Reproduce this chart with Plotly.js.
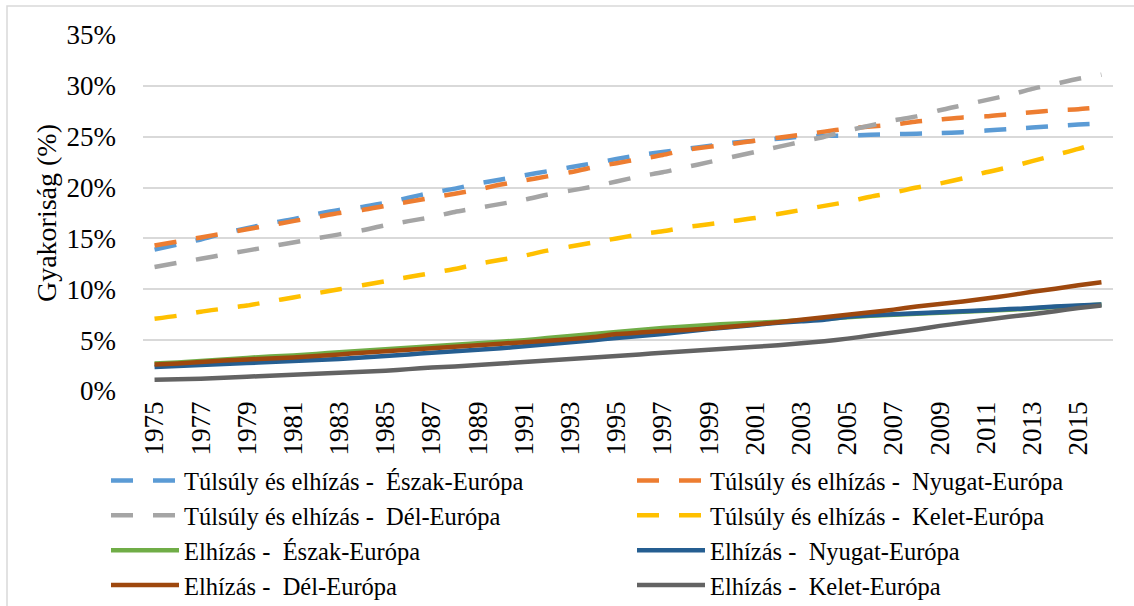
<!DOCTYPE html>
<html>
<head>
<meta charset="utf-8">
<script src="https://cdn.plot.ly/plotly-3.0.1.min.js"></script>
<style>
html,body{margin:0;padding:0;background:#fff;}
#chart{width:1134px;height:606px;}
</style>
</head>
<body>
<div id="chart"></div>
<script>
const years = [1975,1976,1977,1978,1979,1980,1981,1982,1983,1984,1985,1986,1987,1988,1989,1990,1991,1992,1993,1994,1995,1996,1997,1998,1999,2000,2001,2002,2003,2004,2005,2006,2007,2008,2009,2010,2011,2012,2013,2014,2015,2016];
const tickYears = [1975,1977,1979,1981,1983,1985,1987,1989,1991,1993,1995,1997,1999,2001,2003,2005,2007,2009,2011,2013,2015];
const tickLabels = tickYears.map(String);

const seriesNames = [
  "Túlsúly és elhízás -\u00a0 Észak-Európa",
  "Túlsúly és elhízás -\u00a0 Nyugat-Európa",
  "Túlsúly és elhízás -\u00a0 Dél-Európa",
  "Túlsúly és elhízás -\u00a0 Kelet-Európa",
  "Elhízás -\u00a0 Észak-Európa",
  "Elhízás -\u00a0 Nyugat-Európa",
  "Elhízás -\u00a0 Dél-Európa",
  "Elhízás -\u00a0 Kelet-Európa"
];

const overweightNorth = [13.9,14.4,14.9,15.5,16.0,16.5,16.9,17.4,17.8,18.1,18.5,19.0,19.5,19.9,20.4,20.8,21.2,21.6,22.0,22.4,22.8,23.2,23.5,23.8,24.1,24.4,24.6,24.8,25.0,25.1,25.1,25.2,25.25,25.3,25.35,25.45,25.6,25.75,25.9,26.05,26.2,26.3];
const overweightWest = [14.3,14.7,15.1,15.5,15.9,16.3,16.7,17.1,17.5,17.8,18.2,18.6,19.0,19.4,19.8,20.3,20.7,21.1,21.5,22.0,22.4,22.8,23.2,23.7,24.0,24.3,24.6,24.9,25.2,25.5,25.8,26.0,26.2,26.5,26.7,26.9,27.0,27.2,27.4,27.6,27.7,27.9];
const overweightSouth = [12.2,12.6,13.0,13.4,13.8,14.2,14.6,15.0,15.4,15.8,16.3,16.7,17.1,17.6,18.0,18.4,18.8,19.3,19.7,20.1,20.6,21.1,21.5,22.0,22.5,23.0,23.5,24.0,24.5,25.0,25.6,26.1,26.6,27.0,27.6,28.1,28.6,29.1,29.7,30.2,30.7,31.1];
const overweightEast = [7.1,7.4,7.8,8.1,8.4,8.8,9.2,9.6,10.0,10.4,10.8,11.2,11.6,12.0,12.5,12.9,13.3,13.8,14.2,14.6,15.0,15.4,15.7,16.1,16.4,16.7,17.0,17.4,17.8,18.2,18.6,19.1,19.5,20.0,20.4,20.9,21.5,22.0,22.6,23.2,23.8,24.5];
const obesityNorth = [2.7,2.8,2.95,3.1,3.25,3.4,3.5,3.65,3.8,3.95,4.1,4.25,4.4,4.55,4.7,4.85,5.0,5.2,5.4,5.6,5.8,6.0,6.2,6.35,6.5,6.6,6.7,6.8,6.95,7.1,7.25,7.4,7.5,7.6,7.7,7.8,7.9,8.0,8.1,8.25,8.35,8.5];
const obesityWest = [2.35,2.45,2.55,2.65,2.75,2.85,2.95,3.05,3.15,3.3,3.45,3.6,3.75,3.9,4.05,4.2,4.4,4.6,4.8,5.0,5.2,5.4,5.6,5.85,6.1,6.3,6.5,6.7,6.85,7.0,7.3,7.45,7.55,7.65,7.75,7.85,7.95,8.05,8.15,8.3,8.4,8.5];
const obesitySouth = [2.6,2.7,2.85,3.0,3.1,3.2,3.3,3.45,3.6,3.75,3.9,4.05,4.2,4.35,4.5,4.65,4.8,4.95,5.1,5.3,5.6,5.75,5.9,6.0,6.15,6.35,6.55,6.75,7.0,7.25,7.5,7.75,8.0,8.3,8.55,8.8,9.1,9.4,9.75,10.05,10.4,10.7];
const obesityEast = [1.1,1.15,1.2,1.3,1.4,1.5,1.6,1.7,1.8,1.9,2.0,2.15,2.3,2.4,2.55,2.7,2.85,3.0,3.15,3.3,3.45,3.6,3.75,3.9,4.05,4.2,4.35,4.5,4.7,4.9,5.15,5.45,5.75,6.05,6.4,6.7,7.0,7.3,7.55,7.85,8.15,8.4];

const yTickVals = [0,5,10,15,20,25,30,35];
const yTickText = ["0%","5%","10%","15%","20%","25%","30%","35%"];

const seriesValues = [overweightNorth, overweightWest, overweightSouth, overweightEast, obesityNorth, obesityWest, obesitySouth, obesityEast];
const colors = ["#5b9bd5","#ed7d31","#a5a5a5","#ffc000","#70ad47","#255e91","#9e480e","#636363"];
const dashes = ["22px,20px","22px,20px","22px,20px","22px,20px","solid","solid","solid","solid"];
const legendIds = ["legend","legend2","legend","legend2","legend","legend2","legend","legend2"];

const FONT = "Liberation Serif";

const traces = seriesValues.map((vals, i) => ({
  type: 'scatter',
  mode: 'lines',
  x: years,
  y: vals,
  name: seriesNames[i],
  legend: legendIds[i],
  line: {color: colors[i], width: 4.5, dash: dashes[i], shape: 'spline', smoothing: 0.6},
  hoverinfo: 'x+y+name'
}));

const L = 143, R = 1113, T = 35, B = 391;
const pw = R - L, ph = B - T;
const px = v => (v - L) / pw;
const py = v => (B - v) / ph;

const legendBase = {
  orientation: 'v',
  xanchor: 'left',
  y: py(458),
  yanchor: 'top',
  font: {family: FONT, size: 24.5, color: '#000'},
  itemwidth: 68,
  bgcolor: 'rgba(0,0,0,0)',
  traceorder: 'normal'
};

const layout = {
  width: 1134, height: 606,
  margin: {l: L, r: 1134 - R, t: T, b: 606 - B, pad: 0, autoexpand: false},
  paper_bgcolor: '#ffffff',
  plot_bgcolor: '#ffffff',
  font: {family: FONT, color: '#000000', size: 24},
  showlegend: true,
  xaxis: {
    range: [1974.5, 2016.5],
    tickvals: tickYears,
    ticktext: tickLabels,
    tickangle: -90,
    tickfont: {family: FONT, size: 27, color: '#000'},
    showgrid: false,
    zeroline: false,
    showline: false,
    ticks: '',
    ticklabelstandoff: 4,
    automargin: false,
    fixedrange: true
  },
  yaxis: {
    range: [0, 35],
    tickvals: yTickVals,
    ticktext: yTickText,
    tickfont: {family: FONT, size: 27, color: '#000'},
    showgrid: true,
    gridcolor: '#d9d9d9',
    gridwidth: 1.5,
    zeroline: false,
    showline: false,
    ticks: '',
    ticklabelstandoff: 26,
    automargin: false,
    title: {text: 'Gyakoriság (%)', font: {family: FONT, size: 28, color: '#000'}, standoff: 1},
    fixedrange: true
  },
  legend: Object.assign({}, legendBase, {x: px(106)}),
  legend2: Object.assign({}, legendBase, {x: px(632)}),
  shapes: [{
    type: 'rect', xref: 'paper', yref: 'paper',
    x0: px(7), x1: px(1200), y0: py(6), y1: py(700),
    line: {color: '#d9d9d9', width: 1.5},
    fillcolor: 'rgba(0,0,0,0)', layer: 'below'
  }]
};

Plotly.newPlot('chart', traces, layout, {displayModeBar: false});
</script>
</body>
</html>
